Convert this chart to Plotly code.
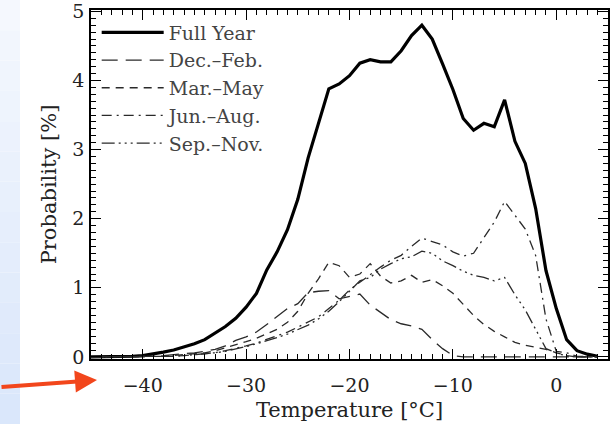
import plotly.graph_objects as go

# ---- data ----
temperature = list(range(-45, 5))  # -45 .. 4 degC

full_year = [0.0, 0.0, 0.0, 0.0, 0.01, 0.02, 0.04, 0.07, 0.10, 0.14,
             0.19, 0.25, 0.34, 0.44, 0.56, 0.72, 0.92, 1.26, 1.52, 1.84,
             2.28, 2.88, 3.38, 3.88, 3.95, 4.07, 4.25, 4.30, 4.27, 4.27,
             4.43, 4.65, 4.80, 4.60, 4.24, 3.87, 3.45, 3.28, 3.38, 3.33,
             3.72, 3.12, 2.80, 2.15, 1.25, 0.70, 0.25, 0.09, 0.04, 0.01]

dec_feb = [0, 0, 0, 0, 0, 0.01, 0.01, 0.02, 0.03, 0.04,
           0.06, 0.08, 0.11, 0.16, 0.24, 0.29, 0.36, 0.47, 0.58, 0.70,
           0.77, 0.93, 0.95, 0.96, 0.84, 0.87, 0.91, 0.75, 0.64, 0.54,
           0.48, 0.45, 0.40, 0.25, 0.12, 0.02, 0, 0, 0, 0,
           0, 0, 0, 0, 0, 0, 0, 0, 0, 0]

mar_may = [0, 0, 0, 0, 0, 0, 0.01, 0.01, 0.02, 0.03,
           0.04, 0.06, 0.09, 0.13, 0.17, 0.22, 0.27, 0.33, 0.40, 0.50,
           0.66, 0.92, 1.13, 1.37, 1.32, 1.15, 1.20, 1.35, 1.17, 1.07,
           1.10, 1.18, 1.08, 1.12, 1.03, 0.92, 0.76, 0.60, 0.47, 0.37,
           0.29, 0.21, 0.17, 0.14, 0.11, 0.06, 0.02, 0, 0, 0]

jun_aug = [0, 0, 0, 0, 0, 0, 0, 0.01, 0.01, 0.02,
           0.03, 0.04, 0.06, 0.09, 0.12, 0.16, 0.20, 0.25, 0.30, 0.36,
           0.43, 0.50, 0.58, 0.70, 0.82, 0.97, 1.08, 1.20, 1.30, 1.40,
           1.47, 1.60, 1.72, 1.67, 1.62, 1.52, 1.46, 1.50, 1.72, 1.95,
           2.25, 2.05, 1.85, 1.47, 0.55, 0.08, 0.06, 0.01, 0, 0]

sep_nov = [0, 0, 0, 0, 0, 0, 0, 0.01, 0.01, 0.02,
           0.03, 0.04, 0.06, 0.08, 0.11, 0.15, 0.19, 0.23, 0.28, 0.33,
           0.39, 0.46, 0.55, 0.66, 0.80, 0.95, 1.10, 1.15, 1.27, 1.35,
           1.42, 1.45, 1.53, 1.50, 1.39, 1.32, 1.24, 1.18, 1.15, 1.10,
           1.15, 0.90, 0.68, 0.40, 0.12, 0.06, 0.01, 0, 0, 0]

series_names = ["Full Year", "Dec.\u2013Feb.", "Mar.\u2013May", "Jun.\u2013Aug.", "Sep.\u2013Nov."]

# ---- styling ----
FONT = "DejaVu Serif"
styles = [
    dict(color="black", width=3.2, dash="solid"),
    dict(color="#2a2a2a", width=1.3, dash="16px,8px"),
    dict(color="#2a2a2a", width=1.3, dash="8px,6px"),
    dict(color="#2a2a2a", width=1.3, dash="10px,5px,2px,5px"),
    dict(color="#2a2a2a", width=1.3, dash="13px,4px,2px,4px,2px,4px,2px,4px"),
]
all_series = [full_year, dec_feb, mar_may, jun_aug, sep_nov]

fig = go.Figure()
for i, (name, ys, st) in enumerate(zip(series_names, all_series, styles)):
    fig.add_trace(go.Scatter(x=temperature, y=ys, mode="lines", name=name,
                             line=st, legendgroup=f"g{i}"))

# decorative slide background strip (light blue gradient at left edge)
plot_l, plot_w, plot_t, plot_h, fig_h = 91, 517, 10, 349, 424
n_bands = 14
for k in range(n_bands):
    f = k / (n_bands - 1)
    r = int(245 - 27 * f)
    g = int(248 - 17 * f)
    b = int(254 - 3 * f)
    fig.add_shape(type="rect", xref="paper", yref="paper",
                  x0=(0 - plot_l) / plot_w, x1=(20 - plot_l) / plot_w,
                  y0=1 - (fig_h * (k + 1) / n_bands - plot_t) / plot_h,
                  y1=1 - (fig_h * k / n_bands - plot_t) / plot_h,
                  fillcolor=f"rgb({r},{g},{b})", line_width=0, layer="below")

# red arrow pointing at the x-axis start
fig.add_annotation(x=(97 - plot_l) / plot_w, y=(plot_t + plot_h - 380) / plot_h,
                   xref="paper", yref="paper", text="", showarrow=True,
                   ax=-99, ay=7, arrowhead=2, arrowsize=1.1, arrowwidth=4,
                   arrowcolor="#f2461c")

axis_common = dict(showline=True, linecolor="black", linewidth=1.5, mirror="allticks",
                   ticks="inside", ticklen=10, tickcolor="black", tickwidth=1,
                   showgrid=False, zeroline=False, automargin=False,
                   tickfont=dict(family=FONT, size=19, color="#222"),
                   title_font=dict(family=FONT, size=21, color="#222"))

fig.update_xaxes(range=[-45, 5], tickmode="linear", tick0=0, dtick=10,
                 minor=dict(dtick=1, ticklen=5, ticks="inside", tickcolor="black"),
                 title_text="Temperature [\u00b0C]", title_standoff=8,
                 ticklabelstandoff=8, **axis_common)
fig.update_yaxes(range=[-0.03, 5.02], tickmode="linear", tick0=0, dtick=1,
                 minor=dict(dtick=0.1, ticklen=5, ticks="inside", tickcolor="black"),
                 title_text="Probability [%]", title_standoff=10,
                 ticklabelstandoff=1, **axis_common)

fig.update_layout(
    width=612, height=424,
    margin=dict(l=91, r=4, t=10, b=65, autoexpand=False),
    paper_bgcolor="white", plot_bgcolor="white",
    font=dict(family=FONT, size=19, color="#222"),
    legend=dict(x=0.011, y=0.99, xanchor="left", yanchor="top",
                bgcolor="rgba(0,0,0,0)", borderwidth=0,
                font=dict(family=FONT, size=19, color="#444"),
                itemwidth=62, tracegroupgap=0),
    showlegend=True,
)

fig.write_html("out.html", config={"displayModeBar": False},
               post_script="document.body.style.margin='0';document.body.style.padding='0';")
